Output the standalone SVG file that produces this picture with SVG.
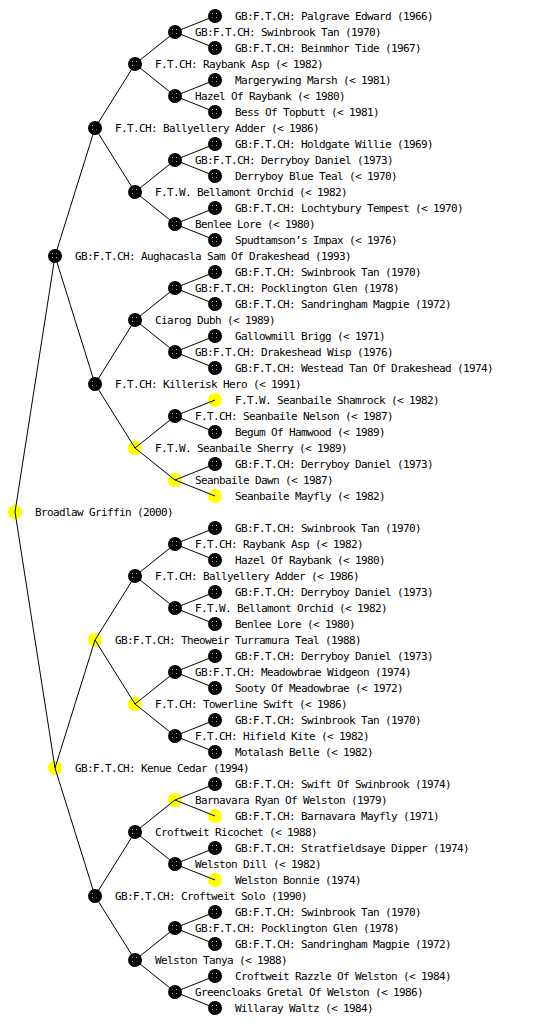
<svg xmlns="http://www.w3.org/2000/svg" xmlns:xlink="http://www.w3.org/1999/xlink" width="560" height="1024" viewBox="0 0 560 1024">
<style>
text{font-family:"DejaVu Sans Mono","Liberation Mono",monospace;font-size:11px;letter-spacing:-0.62px;fill:#000}
#connectors line{stroke:#000;stroke-width:1}
</style>
<defs>
<pattern id="pb" width="4" height="4" patternUnits="userSpaceOnUse"><rect width="4" height="4" fill="#000"/><rect x="1" y="1" width="1" height="1" fill="#bbb"/></pattern>
<pattern id="py" width="4" height="4" patternUnits="userSpaceOnUse"><rect width="4" height="4" fill="#ff0"/><rect x="1" y="1" width="1" height="1" fill="#fffbb0"/></pattern>
<g id="nb"><circle r="7" fill="#000"/><circle r="5" fill="url(#pb)"/></g>
<g id="ny"><circle r="7" fill="#ff0"/><circle r="5" fill="url(#py)"/></g>
</defs>
<rect width="560" height="1024" fill="#fff"/>
<g id="nodes">
<g id="n1"><use href="#nb" x="215" y="16"/><text x="235" y="20">GB:F.T.CH: Palgrave Edward (1966)</text></g>
<g id="n2"><use href="#nb" x="175" y="32"/><text x="195" y="36">GB:F.T.CH: Swinbrook Tan (1970)</text></g>
<g id="n3"><use href="#nb" x="215" y="48"/><text x="235" y="52">GB:F.T.CH: Beinmhor Tide (1967)</text></g>
<g id="n4"><use href="#nb" x="135" y="64"/><text x="155" y="68">F.T.CH: Raybank Asp (&lt; 1982)</text></g>
<g id="n5"><use href="#nb" x="215" y="80"/><text x="235" y="84">Margerywing Marsh (&lt; 1981)</text></g>
<g id="n6"><use href="#nb" x="175" y="96"/><text x="195" y="100">Hazel Of Raybank (&lt; 1980)</text></g>
<g id="n7"><use href="#nb" x="215" y="112"/><text x="235" y="116">Bess Of Topbutt (&lt; 1981)</text></g>
<g id="n8"><use href="#nb" x="95" y="128"/><text x="115" y="132">F.T.CH: Ballyellery Adder (&lt; 1986)</text></g>
<g id="n9"><use href="#nb" x="215" y="144"/><text x="235" y="148">GB:F.T.CH: Holdgate Willie (1969)</text></g>
<g id="n10"><use href="#nb" x="175" y="160"/><text x="195" y="164">GB:F.T.CH: Derryboy Daniel (1973)</text></g>
<g id="n11"><use href="#nb" x="215" y="176"/><text x="235" y="180">Derryboy Blue Teal (&lt; 1970)</text></g>
<g id="n12"><use href="#nb" x="135" y="192"/><text x="155" y="196">F.T.W. Bellamont Orchid (&lt; 1982)</text></g>
<g id="n13"><use href="#nb" x="215" y="208"/><text x="235" y="212">GB:F.T.CH: Lochtybury Tempest (&lt; 1970)</text></g>
<g id="n14"><use href="#nb" x="175" y="224"/><text x="195" y="228">Benlee Lore (&lt; 1980)</text></g>
<g id="n15"><use href="#nb" x="215" y="240"/><text x="235" y="244">Spudtamson’s Impax (&lt; 1976)</text></g>
<g id="n16"><use href="#nb" x="55" y="256"/><text x="75" y="260">GB:F.T.CH: Aughacasla Sam Of Drakeshead (1993)</text></g>
<g id="n17"><use href="#nb" x="215" y="272"/><text x="235" y="276">GB:F.T.CH: Swinbrook Tan (1970)</text></g>
<g id="n18"><use href="#nb" x="175" y="288"/><text x="195" y="292">GB:F.T.CH: Pocklington Glen (1978)</text></g>
<g id="n19"><use href="#nb" x="215" y="304"/><text x="235" y="308">GB:F.T.CH: Sandringham Magpie (1972)</text></g>
<g id="n20"><use href="#nb" x="135" y="320"/><text x="155" y="324">Ciarog Dubh (&lt; 1989)</text></g>
<g id="n21"><use href="#nb" x="215" y="336"/><text x="235" y="340">Gallowmill Brigg (&lt; 1971)</text></g>
<g id="n22"><use href="#nb" x="175" y="352"/><text x="195" y="356">GB:F.T.CH: Drakeshead Wisp (1976)</text></g>
<g id="n23"><use href="#nb" x="215" y="368"/><text x="235" y="372">GB:F.T.CH: Westead Tan Of Drakeshead (1974)</text></g>
<g id="n24"><use href="#nb" x="95" y="384"/><text x="115" y="388">F.T.CH: Killerisk Hero (&lt; 1991)</text></g>
<g id="n25"><use href="#ny" x="215" y="400"/><text x="235" y="404">F.T.W. Seanbaile Shamrock (&lt; 1982)</text></g>
<g id="n26"><use href="#nb" x="175" y="416"/><text x="195" y="420">F.T.CH: Seanbaile Nelson (&lt; 1987)</text></g>
<g id="n27"><use href="#nb" x="215" y="432"/><text x="235" y="436">Begum Of Hamwood (&lt; 1989)</text></g>
<g id="n28"><use href="#ny" x="135" y="448"/><text x="155" y="452">F.T.W. Seanbaile Sherry (&lt; 1989)</text></g>
<g id="n29"><use href="#nb" x="215" y="464"/><text x="235" y="468">GB:F.T.CH: Derryboy Daniel (1973)</text></g>
<g id="n30"><use href="#ny" x="175" y="480"/><text x="195" y="484">Seanbaile Dawn (&lt; 1987)</text></g>
<g id="n31"><use href="#ny" x="215" y="496"/><text x="235" y="500">Seanbaile Mayfly (&lt; 1982)</text></g>
<g id="n32"><use href="#ny" x="15" y="512"/><text x="35" y="516">Broadlaw Griffin (2000)</text></g>
<g id="n33"><use href="#nb" x="215" y="528"/><text x="235" y="532">GB:F.T.CH: Swinbrook Tan (1970)</text></g>
<g id="n34"><use href="#nb" x="175" y="544"/><text x="195" y="548">F.T.CH: Raybank Asp (&lt; 1982)</text></g>
<g id="n35"><use href="#nb" x="215" y="560"/><text x="235" y="564">Hazel Of Raybank (&lt; 1980)</text></g>
<g id="n36"><use href="#nb" x="135" y="576"/><text x="155" y="580">F.T.CH: Ballyellery Adder (&lt; 1986)</text></g>
<g id="n37"><use href="#nb" x="215" y="592"/><text x="235" y="596">GB:F.T.CH: Derryboy Daniel (1973)</text></g>
<g id="n38"><use href="#nb" x="175" y="608"/><text x="195" y="612">F.T.W. Bellamont Orchid (&lt; 1982)</text></g>
<g id="n39"><use href="#nb" x="215" y="624"/><text x="235" y="628">Benlee Lore (&lt; 1980)</text></g>
<g id="n40"><use href="#ny" x="95" y="640"/><text x="115" y="644">GB:F.T.CH: Theoweir Turramura Teal (1988)</text></g>
<g id="n41"><use href="#nb" x="215" y="656"/><text x="235" y="660">GB:F.T.CH: Derryboy Daniel (1973)</text></g>
<g id="n42"><use href="#nb" x="175" y="672"/><text x="195" y="676">GB:F.T.CH: Meadowbrae Widgeon (1974)</text></g>
<g id="n43"><use href="#nb" x="215" y="688"/><text x="235" y="692">Sooty Of Meadowbrae (&lt; 1972)</text></g>
<g id="n44"><use href="#ny" x="135" y="704"/><text x="155" y="708">F.T.CH: Towerline Swift (&lt; 1986)</text></g>
<g id="n45"><use href="#nb" x="215" y="720"/><text x="235" y="724">GB:F.T.CH: Swinbrook Tan (1970)</text></g>
<g id="n46"><use href="#nb" x="175" y="736"/><text x="195" y="740">F.T.CH: Hifield Kite (&lt; 1982)</text></g>
<g id="n47"><use href="#nb" x="215" y="752"/><text x="235" y="756">Motalash Belle (&lt; 1982)</text></g>
<g id="n48"><use href="#ny" x="55" y="768"/><text x="75" y="772">GB:F.T.CH: Kenue Cedar (1994)</text></g>
<g id="n49"><use href="#nb" x="215" y="784"/><text x="235" y="788">GB:F.T.CH: Swift Of Swinbrook (1974)</text></g>
<g id="n50"><use href="#ny" x="175" y="800"/><text x="195" y="804">Barnavara Ryan Of Welston (1979)</text></g>
<g id="n51"><use href="#ny" x="215" y="816"/><text x="235" y="820">GB:F.T.CH: Barnavara Mayfly (1971)</text></g>
<g id="n52"><use href="#nb" x="135" y="832"/><text x="155" y="836">Croftweit Ricochet (&lt; 1988)</text></g>
<g id="n53"><use href="#nb" x="215" y="848"/><text x="235" y="852">GB:F.T.CH: Stratfieldsaye Dipper (1974)</text></g>
<g id="n54"><use href="#nb" x="175" y="864"/><text x="195" y="868">Welston Dill (&lt; 1982)</text></g>
<g id="n55"><use href="#ny" x="215" y="880"/><text x="235" y="884">Welston Bonnie (1974)</text></g>
<g id="n56"><use href="#nb" x="95" y="896"/><text x="115" y="900">GB:F.T.CH: Croftweit Solo (1990)</text></g>
<g id="n57"><use href="#nb" x="215" y="912"/><text x="235" y="916">GB:F.T.CH: Swinbrook Tan (1970)</text></g>
<g id="n58"><use href="#nb" x="175" y="928"/><text x="195" y="932">GB:F.T.CH: Pocklington Glen (1978)</text></g>
<g id="n59"><use href="#nb" x="215" y="944"/><text x="235" y="948">GB:F.T.CH: Sandringham Magpie (1972)</text></g>
<g id="n60"><use href="#nb" x="135" y="960"/><text x="155" y="964">Welston Tanya (&lt; 1988)</text></g>
<g id="n61"><use href="#nb" x="215" y="976"/><text x="235" y="980">Croftweit Razzle Of Welston (&lt; 1984)</text></g>
<g id="n62"><use href="#nb" x="175" y="992"/><text x="195" y="996">Greencloaks Gretal Of Welston (&lt; 1986)</text></g>
<g id="n63"><use href="#nb" x="215" y="1008"/><text x="235" y="1012">Willaray Waltz (&lt; 1984)</text></g>
</g>
<g id="connectors">
<line x1="15" y1="512" x2="55" y2="256"/><line x1="15" y1="512" x2="55" y2="768"/>
<line x1="55" y1="256" x2="95" y2="128"/><line x1="55" y1="256" x2="95" y2="384"/>
<line x1="55" y1="768" x2="95" y2="640"/><line x1="55" y1="768" x2="95" y2="896"/>
<line x1="95" y1="128" x2="135" y2="64"/><line x1="95" y1="128" x2="135" y2="192"/>
<line x1="95" y1="384" x2="135" y2="320"/><line x1="95" y1="384" x2="135" y2="448"/>
<line x1="95" y1="640" x2="135" y2="576"/><line x1="95" y1="640" x2="135" y2="704"/>
<line x1="95" y1="896" x2="135" y2="832"/><line x1="95" y1="896" x2="135" y2="960"/>
<line x1="135" y1="64" x2="175" y2="32"/><line x1="135" y1="64" x2="175" y2="96"/>
<line x1="135" y1="192" x2="175" y2="160"/><line x1="135" y1="192" x2="175" y2="224"/>
<line x1="135" y1="320" x2="175" y2="288"/><line x1="135" y1="320" x2="175" y2="352"/>
<line x1="135" y1="448" x2="175" y2="416"/><line x1="135" y1="448" x2="175" y2="480"/>
<line x1="135" y1="576" x2="175" y2="544"/><line x1="135" y1="576" x2="175" y2="608"/>
<line x1="135" y1="704" x2="175" y2="672"/><line x1="135" y1="704" x2="175" y2="736"/>
<line x1="135" y1="832" x2="175" y2="800"/><line x1="135" y1="832" x2="175" y2="864"/>
<line x1="135" y1="960" x2="175" y2="928"/><line x1="135" y1="960" x2="175" y2="992"/>
<line x1="175" y1="32" x2="215" y2="16"/><line x1="175" y1="32" x2="215" y2="48"/>
<line x1="175" y1="96" x2="215" y2="80"/><line x1="175" y1="96" x2="215" y2="112"/>
<line x1="175" y1="160" x2="215" y2="144"/><line x1="175" y1="160" x2="215" y2="176"/>
<line x1="175" y1="224" x2="215" y2="208"/><line x1="175" y1="224" x2="215" y2="240"/>
<line x1="175" y1="288" x2="215" y2="272"/><line x1="175" y1="288" x2="215" y2="304"/>
<line x1="175" y1="352" x2="215" y2="336"/><line x1="175" y1="352" x2="215" y2="368"/>
<line x1="175" y1="416" x2="215" y2="400"/><line x1="175" y1="416" x2="215" y2="432"/>
<line x1="175" y1="480" x2="215" y2="464"/><line x1="175" y1="480" x2="215" y2="496"/>
<line x1="175" y1="544" x2="215" y2="528"/><line x1="175" y1="544" x2="215" y2="560"/>
<line x1="175" y1="608" x2="215" y2="592"/><line x1="175" y1="608" x2="215" y2="624"/>
<line x1="175" y1="672" x2="215" y2="656"/><line x1="175" y1="672" x2="215" y2="688"/>
<line x1="175" y1="736" x2="215" y2="720"/><line x1="175" y1="736" x2="215" y2="752"/>
<line x1="175" y1="800" x2="215" y2="784"/><line x1="175" y1="800" x2="215" y2="816"/>
<line x1="175" y1="864" x2="215" y2="848"/><line x1="175" y1="864" x2="215" y2="880"/>
<line x1="175" y1="928" x2="215" y2="912"/><line x1="175" y1="928" x2="215" y2="944"/>
<line x1="175" y1="992" x2="215" y2="976"/><line x1="175" y1="992" x2="215" y2="1008"/>
</g>
</svg>
